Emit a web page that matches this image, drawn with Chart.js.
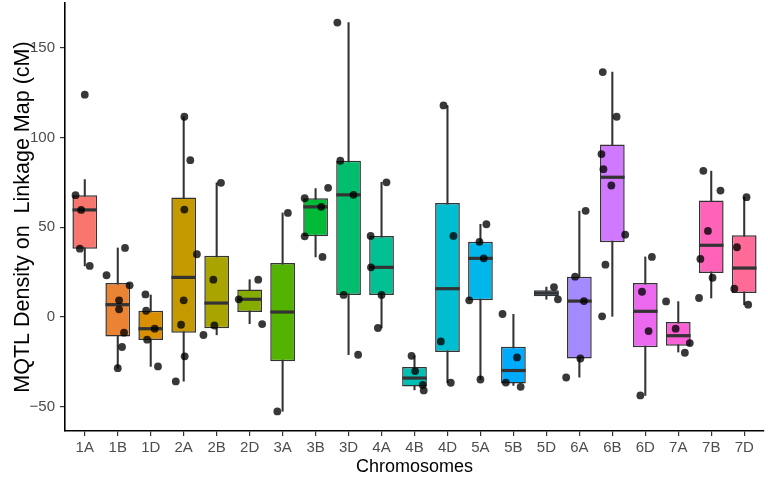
<!DOCTYPE html>
<html>
<head>
<meta charset="utf-8">
<script src="https://cdn.jsdelivr.net/npm/chart.js@4.4.0/dist/chart.umd.min.js"></script>
<style>
  body { margin: 0; background: #fff; }
  #wrap { width: 768px; height: 478px; }
</style>
</head>
<body>
<div id="wrap"><canvas id="mqtlChart" width="768" height="478"></canvas></div>
<script>
// chromosomes on the x axis
const categories = ['1A', '1B', '1D', '2A', '2B', '2D', '3A', '3B', '3D', '4A', '4B', '4D', '5A', '5B', '5D', '6A', '6B', '6D', '7A', '7B', '7D'];

// box statistics
const whiskerLow  = [28.5, -28.5, -27.5, -35.7, -9.9, -3.7, -52.5, 33.5, -21.0, -6.1, -40.6, -36.6, -34.8, -38.1, 9.9, -33.5, 0.4, -43.7, -19.5, 10.6, 6.9];
const boxQ1       = [38.1, -10.8, -12.8, -8.7, -6.3, 2.8, -24.7, 45.0, 12.3, 12.3, -38.7, -19.5, 9.3, -37.0, 11.6, -23.1, 41.7, -16.9, -16.0, 24.6, 13.4];
const boxMedian   = [59.7, 6.9, -6.5, 22.1, 7.8, 9.9, 2.8, 61.4, 68.1, 27.7, -34.0, 15.8, 32.7, -29.8, 13.3, 8.9, 77.9, 3.2, -10.4, 40.0, 27.3];
const boxQ3       = [67.9, 19.0, 3.5, 66.6, 34.2, 15.3, 30.1, 66.2, 87.1, 45.2, -27.9, 63.6, 41.9, -16.6, 15.0, 22.5, 96.2, 19.0, -2.8, 64.9, 45.6];
const whiskerHigh = [76.6, 38.5, 12.3, 111.6, 74.8, 20.8, 58.0, 71.6, 164.1, 75.1, -21.6, 117.9, 51.7, 1.5, 16.7, 59.0, 136.5, 33.5, 8.6, 81.3, 66.8];

// jittered points per chromosome: values and horizontal jitter (in category units)
const pointValues = [
  [123.9, 67.9, 59.7, 38.1, 28.5],
  [38.5, 23.3, 17.7, 9.3, 4.3, -8.7, -16.7, -28.5],
  [12.6, 3.5, -6.5, -12.6, -27.5],
  [111.6, 87.4, 59.9, 35.0, 9.3, -4.3, -21.9, -35.9],
  [74.8, 20.8, -4.7, -10.0],
  [20.8, 9.9, -3.9],
  [58.0, -52.6],
  [72.0, 66.2, 61.4, 45.0, 33.5],
  [164.1, 87.1, 68.1, 12.3, -21.0],
  [75.1, 45.2, 27.7, 12.3, -6.1],
  [-21.6, -30.1, -37.8, -40.9],
  [117.9, 45.2, -13.6, -36.6],
  [51.7, 41.9, 32.7, 9.3, -34.8],
  [1.7, -22.5, -36.5, -38.9],
  [16.7, 9.9],
  [59.2, 22.5, 8.9, -23.1, -33.7],
  [136.5, 111.6, 90.8, 82.4, 73.3, 45.9, 29.2, 0.4],
  [33.5, 14.1, -7.8, -43.7],
  [8.7, -6.5, -14.5, -19.9],
  [81.5, 70.5, 48.0, 32.4, 21.9, 10.6],
  [66.8, 38.9, 15.8, 6.9]
];
const pointJitter = [
  [0.0, -0.28, -0.11, -0.15, 0.15],
  [0.22, -0.34, 0.36, 0.04, 0.04, 0.19, 0.13, 0.0],
  [-0.16, -0.14, 0.12, -0.11, 0.22],
  [0.02, 0.20, 0.02, 0.40, 0.0, -0.08, 0.03, -0.24],
  [0.13, -0.10, -0.07, -0.40],
  [0.26, -0.33, 0.38],
  [0.16, -0.16],
  [0.38, -0.33, 0.17, -0.33, 0.21],
  [-0.34, -0.25, 0.15, -0.15, 0.29],
  [0.15, -0.33, -0.32, 0.0, -0.11],
  [-0.09, 0.02, 0.25, 0.28],
  [-0.12, 0.18, -0.20, 0.10],
  [0.18, -0.03, 0.10, -0.34, 0.0],
  [-0.33, 0.11, -0.23, 0.22],
  [0.23, 0.35],
  [0.19, -0.13, 0.14, 0.03, -0.40],
  [-0.29, 0.13, -0.33, -0.27, -0.03, 0.39, -0.21, -0.31],
  [0.20, -0.10, 0.10, -0.15],
  [-0.37, -0.08, 0.35, 0.20],
  [-0.24, 0.28, -0.10, -0.33, 0.04, -0.37],
  [0.07, -0.22, -0.30, 0.12]
];

const yTicks = [-50, 0, 50, 100, 150];

// ggplot-style hue palette (HCL, l=65, c=100)
function hueColor(h) {
  const l = 65, c = 100;
  const hr = h * Math.PI / 180;
  const U = c * Math.cos(hr), V = c * Math.sin(hr);
  const Y = Math.pow((l + 16) / 116, 3);
  const u = U / (13 * l) + 0.1978398, v = V / (13 * l) + 0.4683363;
  const X = 9 * Y * u / (4 * v);
  const Z = -X / 3 - 5 * Y + 3 * Y / v;
  const lin = [
    3.240479 * X - 1.537150 * Y - 0.498535 * Z,
    -0.969256 * X + 1.875992 * Y + 0.041556 * Z,
    0.055648 * X - 0.204043 * Y + 1.057311 * Z
  ];
  const rgb = lin.map(t => {
    const g = t <= 0.0031308 ? 12.92 * t : 1.055 * Math.pow(t, 1 / 2.4) - 0.055;
    return Math.round(Math.min(1, Math.max(0, g)) * 255);
  });
  return 'rgb(' + rgb.join(',') + ')';
}
const boxColors = categories.map((_, i) => hueColor(15 + i * 360 / categories.length));

const ctx = document.getElementById('mqtlChart').getContext('2d');

const points = [];
pointValues.forEach((vals, i) => {
  vals.forEach((v, j) => points.push({ x: i + 1 + pointJitter[i][j], y: v }));
});

new Chart(ctx, {
  type: 'bar',
  data: {
    datasets: [
      {
        type: 'scatter',
        label: 'points',
        data: points,
        backgroundColor: 'rgba(0, 0, 0, 0.78)',
        borderWidth: 0,
        pointRadius: 3.9,
        order: 0
      },
      {
        type: 'scatter',
        label: 'median',
        data: boxMedian.map((v, i) => ({ x: i + 1, y: v })),
        pointStyle: 'line',
        pointRadius: 12.3,
        borderColor: '#333333',
        borderWidth: 3.2,
        order: 1
      },
      {
        label: 'box',
        data: boxQ1.map((v, i) => ({ x: i + 1, y: [v, boxQ3[i]] })),
        backgroundColor: boxColors,
        borderColor: '#333333',
        borderWidth: 1.5,
        borderSkipped: false,
        grouped: false,
        barPercentage: 0.75,
        categoryPercentage: 1,
        order: 2
      },
      {
        label: 'whisker',
        data: whiskerLow.map((v, i) => ({ x: i + 1, y: [v, whiskerHigh[i]] })),
        backgroundColor: '#333333',
        borderWidth: 0,
        grouped: false,
        barThickness: 1.4,
        order: 3
      }
    ]
  },
  options: {
    responsive: false,
    animation: false,
    devicePixelRatio: 1,
    layout: {
      autoPadding: false,
      padding: { top: 3, right: 4, left: 0, bottom: 0 }
    },
    scales: {
      x: {
        type: 'linear',
        min: 0.4,
        max: 21.6,
        offset: false,
        afterBuildTicks(scale) {
          scale.ticks = categories.map((_, i) => ({ value: i + 1 }));
        },
        afterFit(scale) {
          scale.height = 47;
          scale.paddingLeft = 0;
          scale.paddingRight = 0;
        },
        ticks: {
          autoSkip: false,
          maxRotation: 0,
          padding: 3,
          color: '#4D4D4D',
          font: { family: 'Liberation Sans', size: 15 },
          callback: (v) => categories[Math.round(v) - 1]
        },
        grid: {
          offset: false,
          drawOnChartArea: false,
          drawTicks: true,
          tickLength: 5,
          color: '#333333',
          lineWidth: 1.2
        },
        border: { display: true, color: '#000000', width: 1.6 },
        title: {
          display: true,
          text: 'Chromosomes',
          color: '#000000',
          font: { family: 'Liberation Sans', size: 18 },
          padding: { top: 0, bottom: 0 }
        }
      },
      y: {
        min: -63.5,
        max: 175,
        afterBuildTicks(scale) {
          scale.ticks = yTicks.map(v => ({ value: v }));
        },
        afterFit(scale) {
          scale.width = 65;
          scale.paddingTop = 0;
          scale.paddingBottom = 0;
        },
        ticks: {
          padding: 5,
          color: '#4D4D4D',
          font: { family: 'Liberation Sans', size: 15 },
          callback: (v) => (v < 0 ? '\u2212' + Math.abs(v) : String(v))
        },
        grid: {
          drawOnChartArea: false,
          drawTicks: true,
          tickLength: 5,
          color: '#333333',
          lineWidth: 1.2
        },
        border: { display: true, color: '#000000', width: 1.6 },
        title: {
          display: true,
          text: 'MQTL Density on  Linkage Map (cM)',
          color: '#000000',
          font: { family: 'Liberation Sans', size: 21.5 },
          padding: { top: 10, bottom: 0 }
        }
      }
    },
    plugins: {
      legend: { display: false },
      tooltip: { enabled: false }
    }
  }
});
</script>
</body>
</html>
